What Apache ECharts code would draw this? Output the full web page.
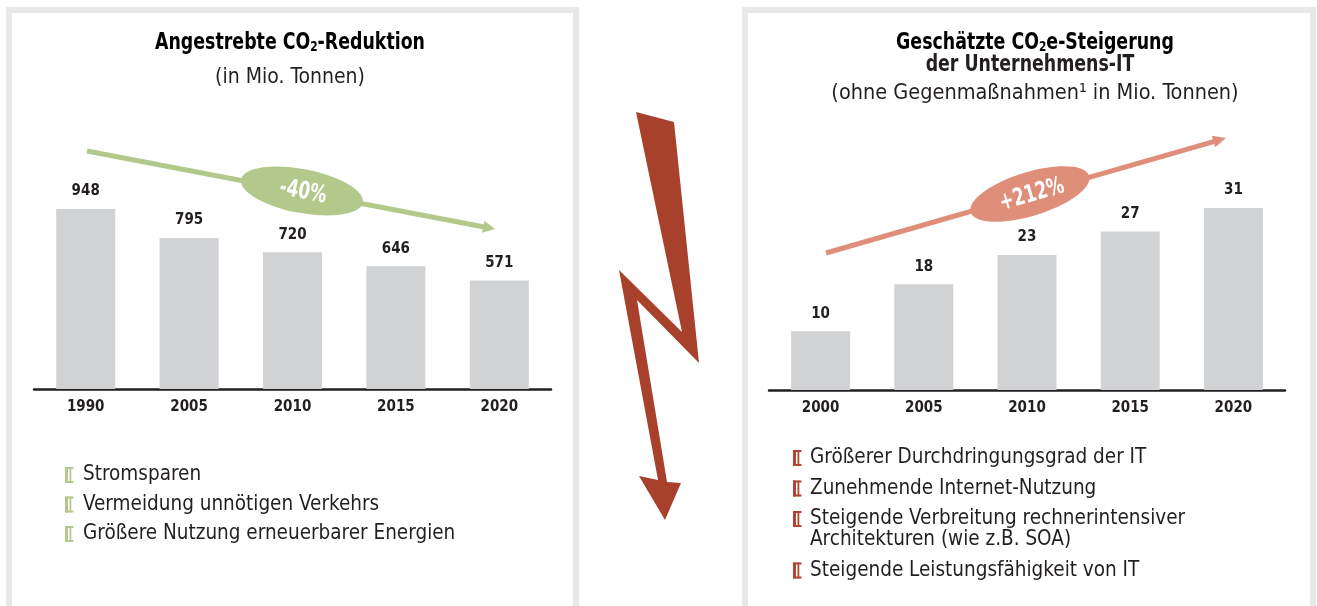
<!DOCTYPE html>
<html>
<head>
<meta charset="utf-8">
<script src="https://cdn.jsdelivr.net/npm/echarts@6/dist/echarts.min.js"></script>
<style>
html, body { margin: 0; padding: 0; background: #fff; }
#chart { width: 1317px; height: 606px; }
</style>
</head>
<body>
<div id="chart"></div>
<script>
// data
var yearsLeft = ['1990', '2005', '2010', '2015', '2020'];
var co2Reduction = [948, 795, 720, 646, 571];
var yearsRight = ['2000', '2005', '2010', '2015', '2020'];
var itIncrease = [10, 18, 23, 27, 31];
var leftBullets = [
	['Stromsparen'],
	['Vermeidung unnötigen Verkehrs'],
	['Größere Nutzung erneuerbarer Energien']
];
var rightBullets = [
	['Größerer Durchdringungsgrad der IT'],
	['Zunehmende Internet-Nutzung'],
	['Steigende Verbreitung rechnerintensiver', 'Architekturen (wie z.B. SOA)'],
	['Steigende Leistungsfähigkeit von IT']
];

var FONT = '"Liberation Sans Narrow", "DejaVu Sans Condensed", "Arial Narrow", sans-serif';
var DARK = '#231f20';
var BAR = '#d1d2d4';
var FRAME = '#e8e8e9';
var GREEN = '#b3c98c';
var SALMON = '#df8f79';
var RED = '#a8412b';
var CONDENSE = 0.84;

function arrow(x1, y1, x2, y2, color, w, headLen, headHalf) {
	var dx = x2 - x1, dy = y2 - y1;
	var L = Math.sqrt(dx * dx + dy * dy);
	var ux = dx / L, uy = dy / L, nx = -uy, ny = ux;
	var bx = x2 - ux * headLen, by = y2 - uy * headLen;
	return [{
		type: 'line', z: 10,
		shape: { x1: x1, y1: y1, x2: bx + ux, y2: by + uy },
		style: { stroke: color, lineWidth: w }
	}, {
		type: 'polygon', z: 10,
		shape: { points: [[x2, y2], [bx + nx * headHalf, by + ny * headHalf], [bx - nx * headHalf, by - ny * headHalf]] },
		style: { fill: color }
	}];
}

function bullet(x, y, color) {
	return [
		{ type: 'rect', shape: { x: x, y: y, width: 3, height: 16 }, style: { fill: color } },
		{ type: 'rect', shape: { x: x + 4.5, y: y, width: 1.8, height: 16 }, style: { fill: color } },
		{ type: 'rect', shape: { x: x, y: y, width: 8.5, height: 2 }, style: { fill: color } },
		{ type: 'rect', shape: { x: x, y: y + 14, width: 8.5, height: 2 }, style: { fill: color } }
	];
}

function bulletList(items, bx, tx, y0, step, lineStep, color) {
	var out = [];
	var y = y0;
	items.forEach(function (lines) {
		out = out.concat(bullet(bx, y - 8, color));
		lines.forEach(function (t, j) {
			out.push({
				type: 'text', x: tx, y: y + j * lineStep,
				style: { text: t, font: '20.5px ' + FONT, fill: DARK, align: 'left', verticalAlign: 'middle' }
			});
		});
		y += step + (lines.length - 1) * lineStep;
	});
	return out;
}

var titleRich = {
	b: { fontFamily: FONT, fontWeight: 'bold', fontSize: 23, color: DARK },
	s: { fontFamily: FONT, fontWeight: 'bold', fontSize: 14, color: DARK, padding: [9, 0, 0, 0] }
};

var graphics = [
	// frames
	{ type: 'rect', shape: { x: 9, y: 10, width: 567, height: 640 }, style: { fill: null, stroke: FRAME, lineWidth: 6 } },
	{ type: 'rect', shape: { x: 745, y: 10, width: 568, height: 640 }, style: { fill: null, stroke: FRAME, lineWidth: 6 } },
	// titles
	{ type: 'text', x: 290, y: 43, scaleX: CONDENSE, style: { text: '{b|Angestrebte CO}{s|2}{b|-Reduktion}', rich: titleRich, align: 'center', verticalAlign: 'middle' } },
	{ type: 'text', x: 290, y: 78, style: { text: '(in Mio. Tonnen)', font: '21px ' + FONT, fill: DARK, align: 'center', verticalAlign: 'middle' } },
	{ type: 'text', x: 1035, y: 43, scaleX: CONDENSE, style: { text: '{b|Geschätzte CO}{s|2}{b|e-Steigerung}', rich: titleRich, align: 'center', verticalAlign: 'middle' } },
	{ type: 'text', x: 1030, y: 65, scaleX: CONDENSE, style: { text: 'der Unternehmens-IT', font: 'bold 23px ' + FONT, fill: DARK, align: 'center', verticalAlign: 'middle' } },
	{ type: 'text', x: 1035, y: 93, style: { text: '(ohne Gegenmaßnahmen¹ in Mio. Tonnen)', font: '21.5px ' + FONT, fill: DARK, align: 'center', verticalAlign: 'middle' } },
	// lightning
	{
		type: 'polygon',
		shape: { points: [[636, 112], [674, 122], [699, 363], [637, 300], [667, 482], [681, 483], [665, 520], [639, 476], [658, 480], [619, 270], [682, 332]] },
		style: { fill: RED }
	},
	// -40% badge
	{ type: 'ellipse', z: 11, x: 302, y: 191, rotation: -10.8 * Math.PI / 180, shape: { cx: 0, cy: 0, rx: 62, ry: 22 }, style: { fill: GREEN } },
	{ type: 'text', z: 12, x: 303, y: 192, scaleX: 0.78, rotation: -10.8 * Math.PI / 180, style: { text: '-40%', font: 'bold 24px ' + FONT, fill: '#fff', align: 'center', verticalAlign: 'middle' } },
	// +212% badge
	{ type: 'ellipse', z: 11, x: 1030, y: 194, rotation: 17 * Math.PI / 180, shape: { cx: 0, cy: 0, rx: 62, ry: 22 }, style: { fill: SALMON } },
	{ type: 'text', z: 12, x: 1032, y: 195, scaleX: 0.78, rotation: 16.5 * Math.PI / 180, style: { text: '+212%', font: 'bold 24px ' + FONT, fill: '#fff', align: 'center', verticalAlign: 'middle' } }
];
graphics = graphics
	.concat(arrow(87, 151, 495, 229, GREEN, 5, 12, 6))
	.concat(arrow(826, 253, 1226, 138, SALMON, 5, 13, 6))
	.concat(bulletList(leftBullets, 65, 83, 475, 29.5, 21, GREEN))
	.concat(bulletList(rightBullets, 793, 810, 458, 30.5, 21, '#b5432f'));

var axisLabel = { fontFamily: FONT, fontWeight: 'bold', fontSize: 15, color: DARK, margin: 11 };
var barLabel = { show: true, position: 'top', distance: 10, fontFamily: FONT, fontWeight: 'bold', fontSize: 15, color: DARK };

var mychart = echarts.init(document.getElementById('chart'));
var option = {
	animation: false,
	backgroundColor: '#fff',
	grid: [
		{ left: 34, top: 199, width: 517, height: 190 },
		{ left: 769, top: 184.5, width: 516, height: 205.5 }
	],
	xAxis: [{
		gridIndex: 0, type: 'category', data: yearsLeft,
		axisLine: { lineStyle: { color: DARK, width: 2.5 } },
		axisTick: { show: false },
		axisLabel: axisLabel
	}, {
		gridIndex: 1, type: 'category', data: yearsRight,
		axisLine: { lineStyle: { color: DARK, width: 2.5 } },
		axisTick: { show: false },
		axisLabel: axisLabel
	}],
	yAxis: [
		{ gridIndex: 0, type: 'value', min: 0, max: 1000, show: false, splitLine: { show: false } },
		{ gridIndex: 1, type: 'value', min: 0, max: 35, show: false, splitLine: { show: false } }
	],
	series: [{
		type: 'bar', xAxisIndex: 0, yAxisIndex: 0, data: co2Reduction,
		barWidth: 59, itemStyle: { color: BAR }, label: barLabel
	}, {
		type: 'bar', xAxisIndex: 1, yAxisIndex: 1, data: itIncrease,
		barWidth: 59, itemStyle: { color: BAR }, label: barLabel
	}],
	graphic: graphics
};
mychart.setOption(option);

window.addEventListener('resize', function () {
	mychart.resize();
});
</script>
</body>
</html>
